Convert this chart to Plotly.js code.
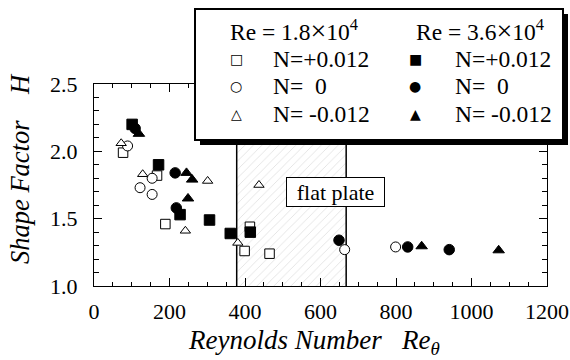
<!DOCTYPE html>
<html>
<head>
<meta charset="utf-8">
<script src="https://cdn.plot.ly/plotly-3.0.1.min.js"></script>
<style>
html,body{margin:0;padding:0;background:#fff;}
#chart{width:570px;height:360px;}
</style>
</head>
<body>
<div id="chart"></div>
<script>
// ---- data ----
// Re = 1.8x10^4 (open symbols)
const lowRe_Npos_x = [77, 167, 189, 399, 413, 465];
const lowRe_Npos_H = [1.99, 1.82, 1.46, 1.26, 1.44, 1.24];
const lowRe_N0_x   = [89, 122, 154, 154, 664, 799];
const lowRe_N0_H   = [2.04, 1.73, 1.80, 1.68, 1.27, 1.29];
const lowRe_Nneg_x = [72, 129, 242, 301, 381, 437];
const lowRe_Nneg_H = [2.06, 1.83, 1.41, 1.78, 1.32, 1.75];
// Re = 3.6x10^4 (filled symbols)
const highRe_Npos_x = [101, 171, 228, 306, 361, 414];
const highRe_Npos_H = [2.20, 1.90, 1.53, 1.49, 1.39, 1.40];
const highRe_N0_x   = [109, 215, 218, 649, 831, 941];
const highRe_N0_H   = [2.17, 1.84, 1.58, 1.34, 1.29, 1.27];
const highRe_Nneg_x = [119, 245, 260, 249, 868, 1072];
const highRe_Nneg_H = [2.13, 1.84, 1.79, 1.65, 1.295, 1.265];

const groupHeaders = ['Re = 1.8<span style="font-size:28px">\u00d7</span>10<sup>4</sup>',
                      'Re = 3.6<span style="font-size:28px">\u00d7</span>10<sup>4</sup>'];
const nLabels = ['N=+0.012', 'N=\u00a0\u00a00', 'N= -0.012'];
const flatPlateRange = [378, 668];
const flatPlateLabel = 'flat plate';
const xTickVals = [0, 200, 400, 600, 800, 1000, 1200];
const yTickVals = [1.0, 1.5, 2.0, 2.5];
const yTickText = ['1.0', '1.5', '2.0', '2.5'];
const xRange = [0, 1200];
const yRange = [1.0, 2.5];
const xTitle = '<i>Reynolds Number</i>\u00a0\u00a0\u00a0<i>Re<sub>\u03b8</sub></i>';
const yTitle = '<i>Shape Factor\u00a0\u00a0\u00a0\u00a0H</i>';

const serif = 'Liberation Serif';

const series = [
  {x: lowRe_Npos_x,  y: lowRe_Npos_H,  symbol: 'square',      fill: 'white', size: 9.5},
  {x: lowRe_N0_x,    y: lowRe_N0_H,    symbol: 'circle',      fill: 'white', size: 10},
  {x: lowRe_Nneg_x,  y: lowRe_Nneg_H,  symbol: 'triangle-up', fill: 'white', size: 9},
  {x: highRe_Npos_x, y: highRe_Npos_H, symbol: 'square',      fill: 'black', size: 10.5},
  {x: highRe_N0_x,   y: highRe_N0_H,   symbol: 'circle',      fill: 'black', size: 10.5},
  {x: highRe_Nneg_x, y: highRe_Nneg_H, symbol: 'triangle-up', fill: 'black', size: 10}
];

const traces = [];
// hatched flat plate region with boundary lines
traces.push({
  x: [flatPlateRange[0], flatPlateRange[0], flatPlateRange[1], flatPlateRange[1]],
  y: [yRange[0], yRange[1], yRange[1], yRange[0]],
  mode: 'lines', fill: 'toself',
  fillcolor: 'white',
  fillpattern: {shape: '/', fgcolor: '#d4d4d4', bgcolor: 'white', size: 6, solidity: 0.1},
  line: {color: 'black', width: 1.5},
  hoverinfo: 'skip', showlegend: false
});
series.forEach(s => {
  traces.push({
    x: s.x, y: s.y, mode: 'markers', type: 'scatter', showlegend: false,
    marker: {symbol: s.symbol, size: s.size, color: s.fill, line: {color: 'black', width: 1}}
  });
});

// paper-coordinate helpers for the legend box (plot area: 94..547 x 84..286 px)
const L = 94, T = 84, W = 453, H = 202;
const px = v => (v - L) / W;
const py = v => (T + H - v) / H;

const shapes = [
  {type: 'rect', xref: 'paper', yref: 'paper', x0: px(200), x1: px(568), y0: py(145), y1: py(14),
   fillcolor: 'black', line: {width: 0}},
  {type: 'rect', xref: 'paper', yref: 'paper', x0: px(195), x1: px(563), y0: py(140), y1: py(9),
   fillcolor: 'white', line: {color: 'black', width: 2}}
];

const annotations = [];
const colHeaderX = [294, 480];
const symX = [236, 415];
const textX = [271, 453];
const rowY = [58.5, 86, 113.5];
const openGlyphs = ['\u25a1', '\u25cb', '\u25b3'];
const filledGlyphs = ['\u25a0', '\u25cf', '\u25b2'];
groupHeaders.forEach((h, i) => {
  annotations.push({xref: 'paper', yref: 'paper', x: px(colHeaderX[i]), y: py(30), text: h,
    showarrow: false, xanchor: 'center', yanchor: 'middle', font: {family: serif, size: 23.5, color: 'black'}});
});
nLabels.forEach((lab, r) => {
  [openGlyphs, filledGlyphs].forEach((g, c) => {
    annotations.push({xref: 'paper', yref: 'paper', x: px(symX[c]), y: py(rowY[r]), text: g[r],
      showarrow: false, xanchor: 'center', yanchor: 'middle', font: {family: 'DejaVu Sans', size: 14, color: 'black'}});
    annotations.push({xref: 'paper', yref: 'paper', x: px(textX[c]), y: py(rowY[r]), text: lab,
      showarrow: false, xanchor: 'left', yanchor: 'middle', font: {family: serif, size: 23.5, color: 'black'}});
  });
});
// flat plate label box
annotations.push({x: (flatPlateRange[0] + flatPlateRange[1]) / 2 + 118, y: 1.70, xref: 'x', yref: 'y',
  text: flatPlateLabel, showarrow: false, font: {family: serif, size: 22, color: 'black'},
  bgcolor: 'white', bordercolor: 'black', borderwidth: 1, borderpad: 1, width: 95, height: 26});
// axis titles
annotations.push({xref: 'paper', yref: 'paper', x: px(314), y: py(342), text: xTitle, showarrow: false,
  xanchor: 'center', yanchor: 'middle', font: {family: serif, size: 27, color: 'black'}});
annotations.push({xref: 'paper', yref: 'paper', x: px(20), y: py(169), text: yTitle, showarrow: false,
  textangle: -90, xanchor: 'center', yanchor: 'middle', font: {family: serif, size: 26.5, color: 'black'}});

const axisCommon = {
  showgrid: false, zeroline: false, showline: true, linecolor: 'black', linewidth: 1.2,
  mirror: 'ticks', ticks: 'inside', tickcolor: 'black', tickwidth: 1, ticklen: 8,
  tickfont: {family: serif, size: 22, color: 'black'}
};

const layout = {
  width: 570, height: 360,
  margin: {l: L, r: 570 - L - W, t: T, b: 360 - T - H},
  paper_bgcolor: 'white', plot_bgcolor: 'white',
  showlegend: false,
  font: {family: serif, color: 'black'},
  xaxis: Object.assign({}, axisCommon, {
    range: xRange, tickmode: 'array', tickvals: xTickVals, ticklabelstandoff: 5,
    minor: {dtick: 50, ticks: 'inside', ticklen: 4, tickcolor: 'black', tickwidth: 1, showgrid: false}
  }),
  yaxis: Object.assign({}, axisCommon, {
    range: yRange, tickmode: 'array', tickvals: yTickVals, ticktext: yTickText, ticklabelstandoff: 11,
    minor: {dtick: 0.1, ticks: 'inside', ticklen: 5, tickcolor: 'black', tickwidth: 1, showgrid: false}
  }),
  shapes: shapes,
  annotations: annotations
};

Plotly.newPlot('chart', traces, layout, {staticPlot: true, displayModeBar: false});
</script>
</body>
</html>
